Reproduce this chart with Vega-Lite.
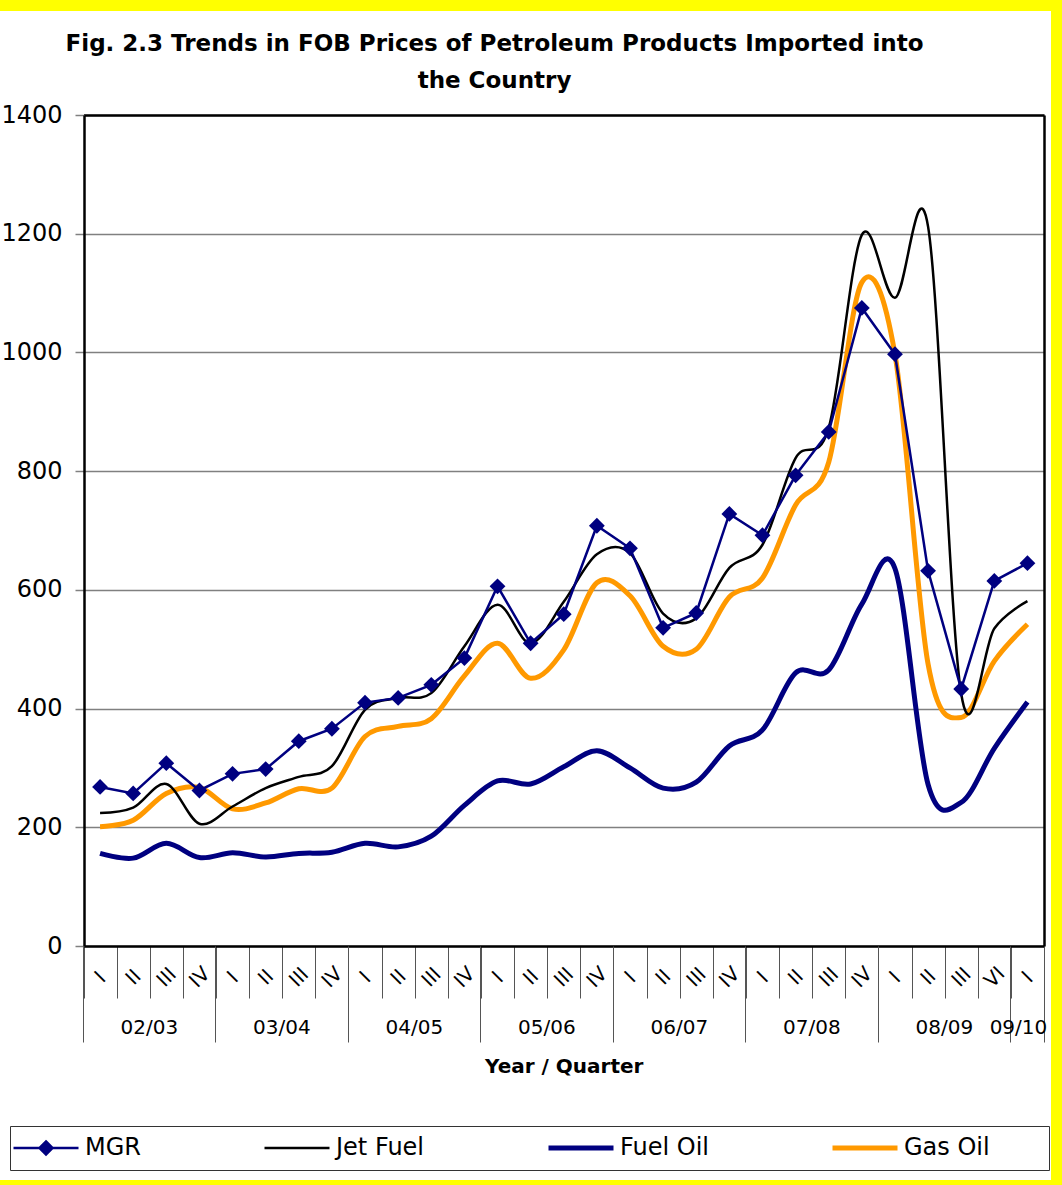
{
  "$schema": "https://vega.github.io/schema/vega-lite/v6.json",
  "width": 1051,
  "height": 1169,
  "autosize": {"type": "none"},
  "padding": {"left": 0, "top": 11, "right": 11, "bottom": 5},
  "background": "#FFFF00",
  "config": {"view": {"stroke": null, "fill": "#FFFFFF"}, "font": "DejaVu Sans"},
  "title": {
    "text": ["Fig. 2.3 Trends in  FOB Prices of Petroleum Products Imported into", "the Country"],
    "frame": "group",
    "anchor": "middle",
    "orient": "top",
    "baseline": "top",
    "offset": -82,
    "dx": -31,
    "lineHeight": 37,
    "font": "DejaVu Sans",
    "fontSize": 23,
    "fontWeight": "bold",
    "color": "#000000"
  },
  "datasets": {
    "prices": [
      {"key": "02/03 I", "MGR": 268, "Jet Fuel": 224, "Fuel Oil": 156, "Gas Oil": 201},
      {"key": "02/03 II", "MGR": 257, "Jet Fuel": 233, "Fuel Oil": 148, "Gas Oil": 212},
      {"key": "02/03 III", "MGR": 308, "Jet Fuel": 273, "Fuel Oil": 173, "Gas Oil": 257},
      {"key": "02/03 IV", "MGR": 262, "Jet Fuel": 206, "Fuel Oil": 149, "Gas Oil": 267},
      {"key": "03/04 I", "MGR": 290, "Jet Fuel": 235, "Fuel Oil": 157, "Gas Oil": 231},
      {"key": "03/04 II", "MGR": 298, "Jet Fuel": 266, "Fuel Oil": 150, "Gas Oil": 241},
      {"key": "03/04 III", "MGR": 345, "Jet Fuel": 285, "Fuel Oil": 156, "Gas Oil": 265},
      {"key": "03/04 IV", "MGR": 366, "Jet Fuel": 303, "Fuel Oil": 158, "Gas Oil": 266},
      {"key": "04/05 I", "MGR": 410, "Jet Fuel": 398, "Fuel Oil": 173, "Gas Oil": 353},
      {"key": "04/05 II", "MGR": 418, "Jet Fuel": 418, "Fuel Oil": 167, "Gas Oil": 370},
      {"key": "04/05 III", "MGR": 440, "Jet Fuel": 426, "Fuel Oil": 185, "Gas Oil": 383},
      {"key": "04/05 IV", "MGR": 485, "Jet Fuel": 505, "Fuel Oil": 237, "Gas Oil": 455},
      {"key": "05/06 I", "MGR": 606, "Jet Fuel": 575, "Fuel Oil": 278, "Gas Oil": 510},
      {"key": "05/06 II", "MGR": 510, "Jet Fuel": 510, "Fuel Oil": 273, "Gas Oil": 451},
      {"key": "05/06 III", "MGR": 559, "Jet Fuel": 580, "Fuel Oil": 302, "Gas Oil": 499},
      {"key": "05/06 IV", "MGR": 708, "Jet Fuel": 660, "Fuel Oil": 329, "Gas Oil": 612},
      {"key": "06/07 I", "MGR": 670, "Jet Fuel": 662, "Fuel Oil": 300, "Gas Oil": 590},
      {"key": "06/07 II", "MGR": 536, "Jet Fuel": 560, "Fuel Oil": 266, "Gas Oil": 505},
      {"key": "06/07 III", "MGR": 561, "Jet Fuel": 552, "Fuel Oil": 276, "Gas Oil": 500},
      {"key": "06/07 IV", "MGR": 728, "Jet Fuel": 637, "Fuel Oil": 337, "Gas Oil": 588},
      {"key": "07/08 I", "MGR": 692, "Jet Fuel": 676, "Fuel Oil": 364, "Gas Oil": 620},
      {"key": "07/08 II", "MGR": 793, "Jet Fuel": 822, "Fuel Oil": 460, "Gas Oil": 743},
      {"key": "07/08 III", "MGR": 866, "Jet Fuel": 873, "Fuel Oil": 465, "Gas Oil": 815},
      {"key": "07/08 IV", "MGR": 1075, "Jet Fuel": 1198, "Fuel Oil": 576, "Gas Oil": 1118},
      {"key": "08/09 I", "MGR": 997, "Jet Fuel": 1092, "Fuel Oil": 636, "Gas Oil": 997},
      {"key": "08/09 II", "MGR": 632, "Jet Fuel": 1212, "Fuel Oil": 272, "Gas Oil": 475},
      {"key": "08/09 III", "MGR": 433, "Jet Fuel": 425, "Fuel Oil": 242, "Gas Oil": 385},
      {"key": "08/09 VI", "MGR": 615, "Jet Fuel": 535, "Fuel Oil": 333, "Gas Oil": 480},
      {"key": "09/10 I", "MGR": 645, "Jet Fuel": 581, "Fuel Oil": 411, "Gas Oil": 542}
    ]
  },
  "data": {"name": "prices"},
  "layer": [
    {
      "transform": [{"fold": ["Fuel Oil", "Gas Oil"], "as": ["series", "value"]}],
      "mark": {"type": "line", "interpolate": "cardinal"},
      "encoding": {
        "x": {
          "field": "key",
          "type": "ordinal",
          "scale": {
            "type": "band",
            "domain": ["02/03 I", "02/03 II", "02/03 III", "02/03 IV", "03/04 I", "03/04 II", "03/04 III", "03/04 IV", "04/05 I", "04/05 II", "04/05 III", "04/05 IV", "05/06 I", "05/06 II", "05/06 III", "05/06 IV", "06/07 I", "06/07 II", "06/07 III", "06/07 IV", "07/08 I", "07/08 II", "07/08 III", "07/08 IV", "08/09 I", "08/09 II", "08/09 III", "08/09 VI", "09/10 I"],
            "range": [83.5, 1044],
            "paddingInner": 0,
            "paddingOuter": 0
          },
          "axis": {
            "orient": "bottom",
            "offset": -234,
            "title": "Year / Quarter",
            "titleFont": "DejaVu Sans",
            "titleFontSize": 20,
            "titleFontWeight": "bold",
            "titleColor": "#000000",
            "titleY": 120,
            "titleBaseline": "middle",
            "domain": true,
            "domainColor": "#000000",
            "domainWidth": 2.5,
            "ticks": true,
            "tickBand": "extent",
            "tickSize": 52,
            "tickColor": "#555555",
            "tickWidth": 1,
            "grid": false,
            "labelExpr": "split(datum.label, ' ')[1]",
            "labelAngle": -45,
            "labelAlign": "center",
            "labelBaseline": "middle",
            "labelPadding": -21,
            "labelFont": "DejaVu Sans",
            "labelFontSize": 20,
            "labelColor": "#000000",
            "labelOverlap": false,
            "labelBound": false
          }
        },
        "y": {
          "field": "value",
          "type": "quantitative",
          "scale": {"domain": [0, 1400], "range": [935, 104], "nice": false, "zero": true},
          "axis": {
            "orient": "left",
            "offset": -84,
            "title": null,
            "values": [0, 200, 400, 600, 800, 1000, 1200, 1400],
            "format": "d",
            "grid": true,
            "gridColor": "#808080",
            "gridWidth": 1.5,
            "domain": true,
            "domainColor": "#000000",
            "domainWidth": 2.5,
            "ticks": true,
            "tickSize": 9,
            "tickColor": "#808080",
            "tickWidth": 1.5,
            "labelFont": "DejaVu Sans",
            "labelFontSize": 24,
            "labelColor": "#000000",
            "labelPadding": 13,
            "labelFlush": false,
            "labelOverlap": false,
            "labelBound": false
          }
        },
        "color": {
          "field": "series",
          "type": "nominal",
          "scale": {
            "domain": ["MGR", "Jet Fuel", "Fuel Oil", "Gas Oil"],
            "range": ["#000080", "#000000", "#000080", "#FF9900"]
          },
          "legend": {
            "orient": "none",
            "legendX": 10,
            "legendY": 1115,
            "direction": "horizontal",
            "columns": 4,
            "gridAlign": "none",
            "title": "\u00a0",
            "titleOrient": "right",
            "titlePadding": 57,
            "titleFontSize": 24,
            "fillColor": "#FFFFFF",
            "strokeColor": "#333333",
            "padding": 2,
            "clipHeight": 40,
            "columnPadding": 122,
            "symbolType": {"expr": "datum.value == 'MGR' ? 'M-1,0H1M0,-0.2L0.2,0L0,0.2L-0.2,0Z' : 'M-1,0H1'"},
            "symbolSize": 4225,
            "symbolStrokeWidth": {"expr": "(datum.value == 'Fuel Oil' || datum.value == 'Gas Oil' ? 5 : 2.5)"},
            "symbolFillColor": "#000080",
            "labelFont": "DejaVu Sans",
            "labelFontSize": 24,
            "labelColor": "#000000",
            "labelOffset": 5,
            "labelLimit": 300
          }
        },
        "strokeWidth": {"value": 5}
      }
    },
    {
      "mark": {"type": "line", "interpolate": "cardinal", "color": "#000000"},
      "encoding": {
        "x": {
          "field": "key",
          "type": "ordinal",
          "axis": {
            "orient": "bottom",
            "offset": -234,
            "title": null,
            "values": ["02/03 IV", "03/04 IV", "04/05 IV", "05/06 IV", "06/07 IV", "07/08 IV", "08/09 VI", "09/10 I"],
            "bandPosition": 1,
            "domain": false,
            "grid": false,
            "ticks": true,
            "tickSize": 96,
            "tickColor": "#555555",
            "tickWidth": 1,
            "labelExpr": "split(datum.label, ' ')[0]",
            "labelAngle": 0,
            "labelAlign": "center",
            "labelBaseline": "middle",
            "labelPadding": -15,
            "labelOffset": {"expr": "datum.value == '09/10 I' ? -9 : -50"},
            "labelFont": "DejaVu Sans",
            "labelFontSize": 20,
            "labelColor": "#000000",
            "labelOverlap": false,
            "labelBound": false
          }
        },
        "y": {
          "field": "Jet Fuel",
          "type": "quantitative",
          "axis": {
            "orient": "right",
            "offset": -7,
            "title": null,
            "domain": true,
            "domainColor": "#000000",
            "domainWidth": 2.5,
            "ticks": false,
            "labels": false,
            "grid": false
          }
        },
        "strokeWidth": {"value": 2.5}
      }
    },
    {
      "mark": {"type": "line", "interpolate": "linear", "color": "#000080"},
      "encoding": {
        "x": {
          "field": "key",
          "type": "ordinal",
          "axis": {
            "orient": "bottom",
            "offset": -234,
            "title": null,
            "values": ["02/03 I"],
            "bandPosition": 0,
            "domain": false,
            "grid": false,
            "labels": false,
            "ticks": true,
            "tickSize": 96,
            "tickColor": "#555555",
            "tickWidth": 1
          }
        },
        "y": {"field": "MGR", "type": "quantitative", "axis": null},
        "strokeWidth": {"value": 2.5}
      }
    },
    {
      "mark": {"type": "point", "shape": "diamond", "filled": true, "size": 250, "color": "#000080", "opacity": 1},
      "encoding": {
        "x": {
          "field": "key",
          "type": "ordinal",
          "axis": {
            "orient": "top",
            "offset": -104,
            "title": null,
            "domain": true,
            "domainColor": "#000000",
            "domainWidth": 2.5,
            "ticks": false,
            "labels": false,
            "grid": false
          }
        },
        "y": {"field": "MGR", "type": "quantitative", "axis": null}
      }
    }
  ],
  "resolve": {"axis": {"x": "independent", "y": "independent"}}
}
